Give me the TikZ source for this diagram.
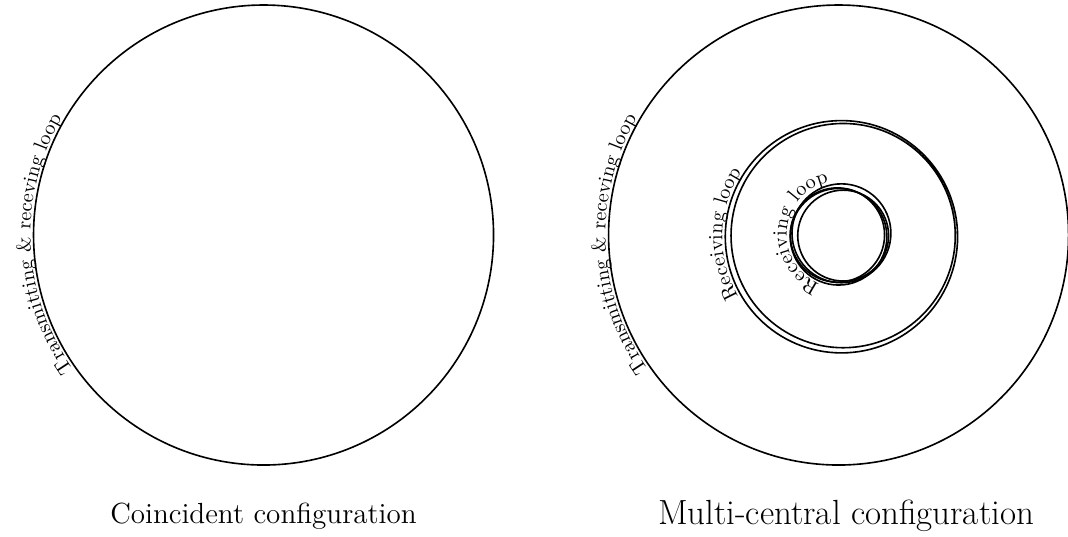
\documentclass[tikz,border=0pt]{standalone}
\usetikzlibrary{decorations.text}
\begin{document}
\begin{tikzpicture}[line width=0.8pt,looptext/.style={decorate,decoration={text along path,text align=center,raise=1.5pt,text={#1}}}]
\useasboundingbox (-4.583,-5.235) rectangle (13.99,4.087);
% coincident
\draw (0,0) circle (4);
\path[looptext={Transmitting {\&} receving loop}] (0,0) ++(250:4) arc (250:115:4);
\node[anchor=base] (capa) at (0,-5.01) {\Large Coincident configuration};
% multi-central
\draw (10,0) circle (4);
\path[looptext={Transmitting {\&} receving loop}] (10,0) ++(250:4) arc (250:115:4);
\draw (10.05,-0.03) circle (2.02) (10.08,-0.01) circle (1.95);
\path[looptext={Receiving loop}] (10.05,-0.03) ++(230:2.02) arc (230:127:2.02);
\foreach \x/\y/\r in {0.05/0.03/0.86, -0.02/0.0/0.82, 0.0/-0.03/0.84, 0.08/-0.01/0.79}
  \draw (10+\x,\y) circle (\r);
\path[looptext={Receiving loop}] (10.03,0.01) ++(250:0.88) arc (250:100:0.88);
\node[anchor=base] (capb) at (10.13,-5.04) {\LARGE Multi-central configuration};
\end{tikzpicture}
\end{document}
